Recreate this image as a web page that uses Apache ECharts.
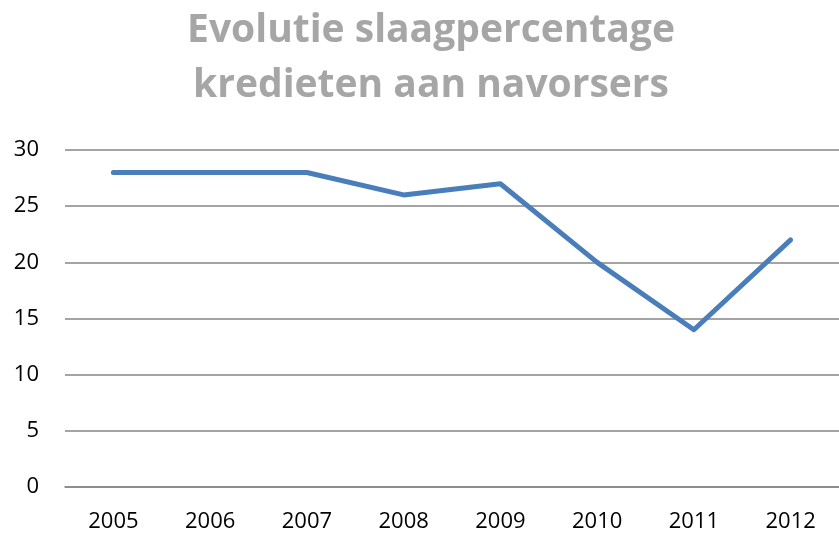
<!DOCTYPE html>
<html>
<head>
<meta charset="utf-8">
<script src="https://cdn.jsdelivr.net/npm/echarts@6/dist/echarts.min.js"></script>
<style>
html,body{margin:0;padding:0;background:#fff;}
#chart{width:839px;height:533px;}
</style>
</head>
<body>
<div id="chart"></div>
<script>
const titleLines = ['Evolutie slaagpercentage', 'kredieten aan navorsers'];
const categories = ['2005', '2006', '2007', '2008', '2009', '2010', '2011', '2012'];
const values = [28, 28, 28, 26, 27, 20, 14, 22];
const yMin = 0, yMax = 30, yStep = 5;

const chart = echarts.init(document.getElementById('chart'), null, {renderer: 'canvas'});
chart.setOption({
  animation: false,
  backgroundColor: '#ffffff',
  title: {
    text: titleLines.join('\n'),
    left: 431,
    top: 3,
    padding: 0,
    textAlign: 'center',
    textStyle: {
      fontFamily: 'Open Sans',
      fontWeight: 'bold',
      fontSize: 39,
      lineHeight: 55,
      color: '#A6A6A6'
    }
  },
  grid: {left: 65, right: -6, top: 150, bottom: 45, containLabel: false},
  xAxis: {
    type: 'category',
    data: categories,
    boundaryGap: true,
    axisLine: {show: true, lineStyle: {color: '#868686', width: 1.5}},
    axisTick: {show: false},
    axisLabel: {fontFamily: 'Open Sans', fontSize: 22, color: '#000', margin: 24}
  },
  yAxis: {
    type: 'value',
    min: yMin, max: yMax, interval: yStep,
    axisLine: {show: false},
    axisTick: {show: false},
    splitLine: {show: true, lineStyle: {color: '#868686', width: 1.5}},
    axisLabel: {fontFamily: 'Open Sans', fontSize: 22, color: '#000', margin: 26}
  },
  series: [{
    type: 'line',
    data: values,
    symbol: 'none',
    lineStyle: {color: '#4A7EBB', width: 5, cap: 'round', join: 'round'}
  }]
});
</script>
</body>
</html>
